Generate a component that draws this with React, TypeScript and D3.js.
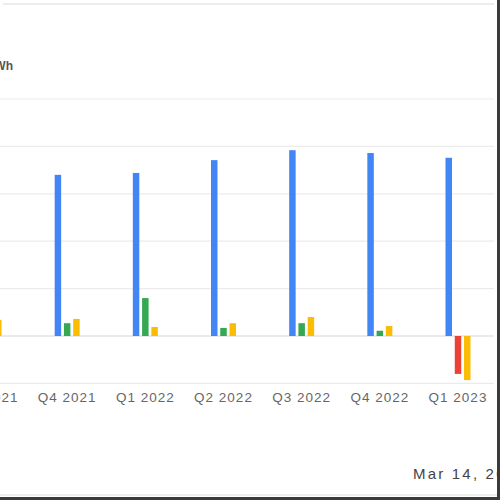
import React, { useEffect, useRef } from "react"
import * as d3 from "d3"

// quarters (first one is mostly cut off at the left edge)
const quarters = ["Q3 2021", "Q4 2021", "Q1 2022", "Q2 2022", "Q3 2022", "Q4 2022", "Q1 2023"]
// series values
const revenue = [320, 340, 344, 371, 392, 386, 376]
const netIncome = [25, 27, 80, 17, 27, 11, -80]
const cashFlow = [34, 36, 19, 27, 40, 21, -93]
const yTicks = [-100, 0, 100, 200, 300, 400, 500]

const seriesKeys = ["revenue", "netIncome", "cashFlow"]

const App: React.FC = () => {
    const ref = useRef<SVGSVGElement>(null)

    useEffect(() => {
        if (!ref.current) return
        const svg = d3.select(ref.current)
        svg.selectAll("*").remove()

        const width = 500
        const height = 500

        const x0 = d3.scalePoint<string>().domain(quarters).range([-11, 458])
        const x1 = d3.scaleBand<string>().domain(seriesKeys).range([-12.5, 12.5]).paddingInner(0.3)
        const y = d3.scaleLinear().domain([-100, 500]).range([383.4, 99])

        // header separator
        svg.append("line")
            .attr("x1", 3).attr("x2", 494).attr("y1", 4).attr("y2", 4)
            .attr("stroke", "#e6e6e6").attr("stroke-width", 1.5)

        // gridlines
        svg.append("g")
            .selectAll("line")
            .data(yTicks)
            .join("line")
            .attr("x1", 0)
            .attr("x2", 494)
            .attr("y1", (d) => y(d))
            .attr("y2", (d) => y(d))
            .attr("stroke", (d) => (d === 0 ? "#d6d6d6" : "#ececec"))
            .attr("stroke-width", 1.2)

        // unit label (cut off at the left)
        svg.append("text")
            .attr("x", 13)
            .attr("y", 70)
            .attr("text-anchor", "end")
            .attr("font-family", "Liberation Sans, Arial, sans-serif")
            .attr("font-size", 12)
            .attr("font-weight", "bold")
            .attr("fill", "#555")
            .text("MWh")

        const rows = quarters.map((q, i) => ({
            q,
            bars: [
                { key: "revenue", value: revenue[i], color: "#4285f4" },
                { key: "netIncome", value: netIncome[i], color: netIncome[i] < 0 ? "#ea4335" : "#34a853" },
                { key: "cashFlow", value: cashFlow[i], color: "#fbbc04" },
            ],
        }))

        const groups = svg.append("g")
            .selectAll("g")
            .data(rows)
            .join("g")
            .attr("transform", (d) => `translate(${x0(d.q)},0)`)

        groups.selectAll("rect")
            .data((d) => d.bars)
            .join("rect")
            .attr("x", (d) => x1(d.key)!)
            .attr("width", x1.bandwidth())
            .attr("y", (d) => y(Math.max(0, d.value)))
            .attr("height", (d) => Math.abs(y(d.value) - y(0)))
            .attr("fill", (d) => d.color)

        // category labels
        svg.append("g")
            .selectAll("text")
            .data(quarters)
            .join("text")
            .attr("x", (d) => x0(d)!)
            .attr("y", 402)
            .attr("text-anchor", "middle")
            .attr("font-family", "Liberation Sans, Arial, sans-serif")
            .attr("font-size", 13.5)
            .attr("letter-spacing", 1)
            .attr("fill", "#666")
            .text((d) => d)

        // date stamp (runs past the right edge)
        svg.append("text")
            .attr("x", 413)
            .attr("y", 479)
            .attr("font-family", "Liberation Sans, Arial, sans-serif")
            .attr("font-size", 15)
            .attr("letter-spacing", 2.2)
            .attr("fill", "#444")
            .text("Mar 14, 2023")

        // frame
        svg.append("line")
            .attr("x1", 0).attr("x2", width).attr("y1", 495).attr("y2", 495)
            .attr("stroke", "#e8e8e8").attr("stroke-width", 1.5)
        svg.append("rect")
            .attr("x", 497).attr("y", 0).attr("width", 3).attr("height", height)
            .attr("fill", "#3a3a3a")
        svg.append("rect")
            .attr("x", 0).attr("y", 497).attr("width", width).attr("height", 3)
            .attr("fill", "#3a3a3a")
    }, [])

    return (
        <svg
            ref={ref}
            width={500}
            height={500}
            style={{ position: "absolute", left: 0, top: 0, background: "#fff" }}
        />
    )
}

export default App
